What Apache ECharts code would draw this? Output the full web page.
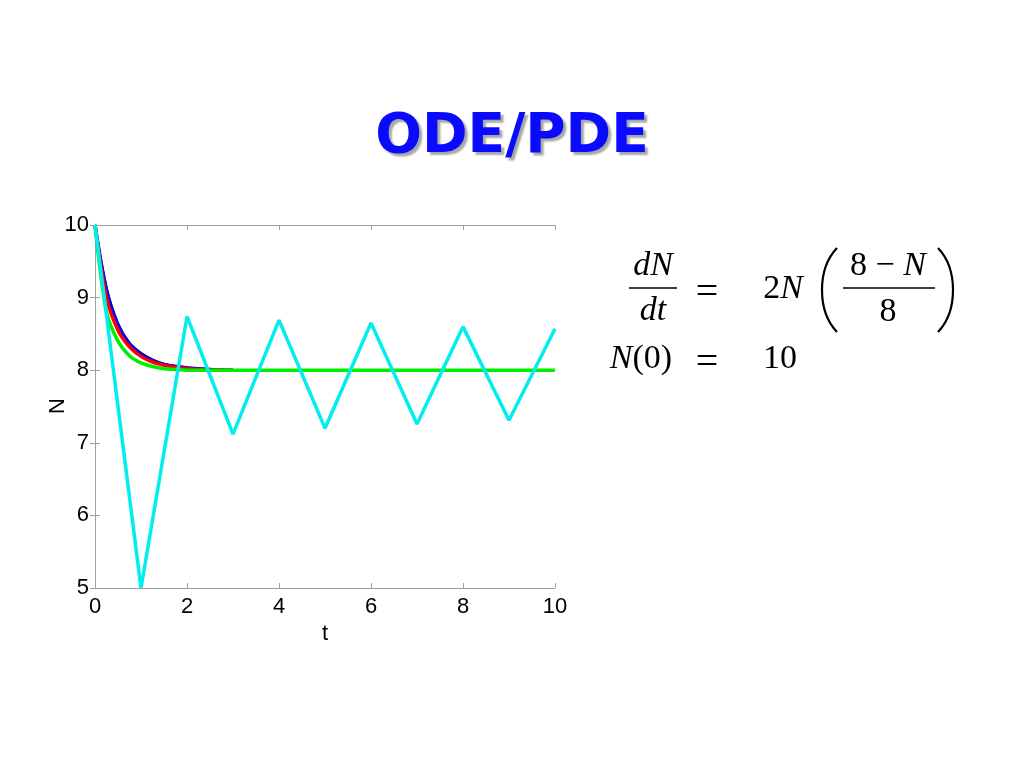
<!DOCTYPE html>
<html>
<head>
<meta charset="utf-8">
<script src="https://cdn.jsdelivr.net/npm/echarts@6/dist/echarts.min.js"></script>
<style>html,body{margin:0;padding:0;background:#fff}#c{width:1024px;height:768px}</style>
</head>
<body>
<div id="c"></div>
<script>
// Time grids
const tFine = [0, 0.25, 0.5, 0.75, 1, 1.25, 1.5, 1.75, 2, 2.25, 2.5, 2.75, 3];
const tGreen = [0, 0.25, 0.5, 0.75, 1, 1.25, 1.5, 1.75, 2, 3, 4, 5, 6, 7, 8, 9, 10];
const tCyan = [0, 1, 2, 3, 4, 5, 6, 7, 8, 9, 10];
// Series values
const blackN = [10, 9.15, 8.65, 8.38, 8.24, 8.15, 8.09, 8.06, 8.04, 8.02, 8.01, 8.01, 8.0];
const blueN  = [10, 9.1, 8.62, 8.36, 8.22, 8.13, 8.08, 8.05, 8.03, 8.02, 8.01, 8.0, 8.0];
const redN   = [10, 9.0, 8.55, 8.32, 8.19, 8.11, 8.07, 8.04, 8.02, 8.01, 8.0, 8.0, 8.0];
const greenN = [10, 8.8, 8.4, 8.2, 8.1, 8.05, 8.02, 8.01, 8.0, 8.0, 8.0, 8.0, 8.0, 8.0, 8.0, 8.0, 8.0];
const cyanN  = [10, 5, 8.74, 7.12, 8.69, 7.2, 8.65, 7.26, 8.6, 7.31, 8.57];
const xTicks = [0, 2, 4, 6, 8, 10];
const yTicks = [5, 6, 7, 8, 9, 10];

const zip = (a, b) => a.map((v, i) => [v, b[i]]);
const chart = echarts.init(document.getElementById('c'));
const sans = 'Liberation Sans, Arial, sans-serif';
const axisFont = { fontFamily: sans, fontSize: 22, color: '#000' };
const boxLine = { show: true, lineStyle: { color: '#a0a0a0', width: 1 } };
const tick = { show: true, inside: true, length: 5, lineStyle: { color: '#a0a0a0' } };
const mkLine = (name, data, color, width, smooth) => ({
  name, type: 'line', data, showSymbol: false, symbol: 'none', silent: true, smooth: smooth || false,
  lineStyle: { color, width }, animation: false
});
const serif = 'Liberation Serif, "DejaVu Serif", serif';
const eqSize = 34;
const rich = {
  i: { fontFamily: serif, fontStyle: 'italic', fontSize: eqSize, color: '#000' },
  r: { fontFamily: serif, fontStyle: 'normal', fontSize: eqSize, color: '#000' },
  e: { fontFamily: serif, fontStyle: 'normal', fontSize: 40, color: '#000' }
};
const txt = (x, y, text, align) => ({
  type: 'text', x, y, silent: true,
  style: { text, rich, fill: '#000', fontFamily: serif, fontSize: eqSize,
           align: align || 'center', verticalAlign: 'middle' }
});
const bar = (x1, x2, y) => ({ type: 'line', silent: true, shape: { x1, y1: y, x2, y2: y }, style: { stroke: '#000', lineWidth: 1.6 } });
const paren = (xe, xm, y1, y2) => ({
  type: 'bezierCurve', silent: true,
  shape: { x1: xe, y1, x2: xe, y2, cpx1: xm, cpy1: y1 + (y2 - y1) * 0.25, cpx2: xm, cpy2: y1 + (y2 - y1) * 0.75 },
  style: { stroke: '#000', lineWidth: 2.2, fill: null }
});

chart.setOption({
  animation: false,
  title: {
    text: 'ODE/PDE', left: 'center', top: 105,
    textStyle: { fontFamily: 'DejaVu Sans, Verdana, sans-serif', fontWeight: 'bold', fontSize: 55, color: '#0a0aff',
      textShadowColor: 'rgba(0,0,0,0.35)', textShadowOffsetX: 3, textShadowOffsetY: 3, textShadowBlur: 2 }
  },
  grid: { left: 95, top: 225, width: 460, height: 363, containLabel: false },
  xAxis: [
    { type: 'value', min: 0, max: 10, interval: 2, position: 'bottom',
      name: 't', nameLocation: 'middle', nameGap: 35, nameTextStyle: axisFont,
      axisLine: boxLine, axisTick: tick, splitLine: { show: false },
      axisLabel: Object.assign({ margin: 8, formatter: v => xTicks.includes(v) ? String(v) : '' }, axisFont) },
    { type: 'value', min: 0, max: 10, interval: 2, position: 'top',
      axisLine: boxLine, axisTick: tick, splitLine: { show: false }, axisLabel: { show: false } }
  ],
  yAxis: [
    { type: 'value', min: 5, max: 10, interval: 1, position: 'left',
      axisLine: boxLine, axisTick: tick, splitLine: { show: false },
      axisLabel: Object.assign({ margin: 6, formatter: v => yTicks.includes(v) ? String(v) : '' }, axisFont) },
    { type: 'value', min: 5, max: 10, interval: 1, position: 'right',
      axisLine: boxLine, axisTick: tick, splitLine: { show: false }, axisLabel: { show: false } }
  ],
  series: [
    mkLine('black', zip(tFine, blackN), '#000000', 2, 0.3),
    mkLine('blue', zip(tFine, blueN), '#0000ff', 3.5, 0.3),
    mkLine('red', zip(tFine, redN), '#ff0000', 3.5, 0.3),
    mkLine('green', zip(tGreen, greenN), '#00ee00', 3.5, 0.3),
    mkLine('cyan', zip(tCyan, cyanN), '#00eeee', 3.5)
  ],
  graphic: [
    { type: 'text', x: 58, y: 406, rotation: Math.PI / 2, silent: true,
      style: { text: 'N', fill: '#000', fontFamily: sans, fontSize: 22, align: 'center', verticalAlign: 'middle' } },
    txt(653, 266, '{i|dN}'),
    bar(629, 677, 288),
    txt(653, 311, '{i|dt}'),
    txt(707, 293, '{e|=}'),
    txt(783, 289, '{r|2}{i|N}'),
    paren(837, 817, 248, 332),
    txt(888, 266, '{r|8 \u2212 }{i|N}'),
    bar(843, 935, 288),
    txt(888, 312, '{r|8}'),
    paren(938, 958, 248, 332),
    txt(641, 359, '{i|N}{r|(0)}'),
    txt(707, 363, '{e|=}'),
    txt(780, 359, '{r|10}')
  ]
});
</script>
</body>
</html>
